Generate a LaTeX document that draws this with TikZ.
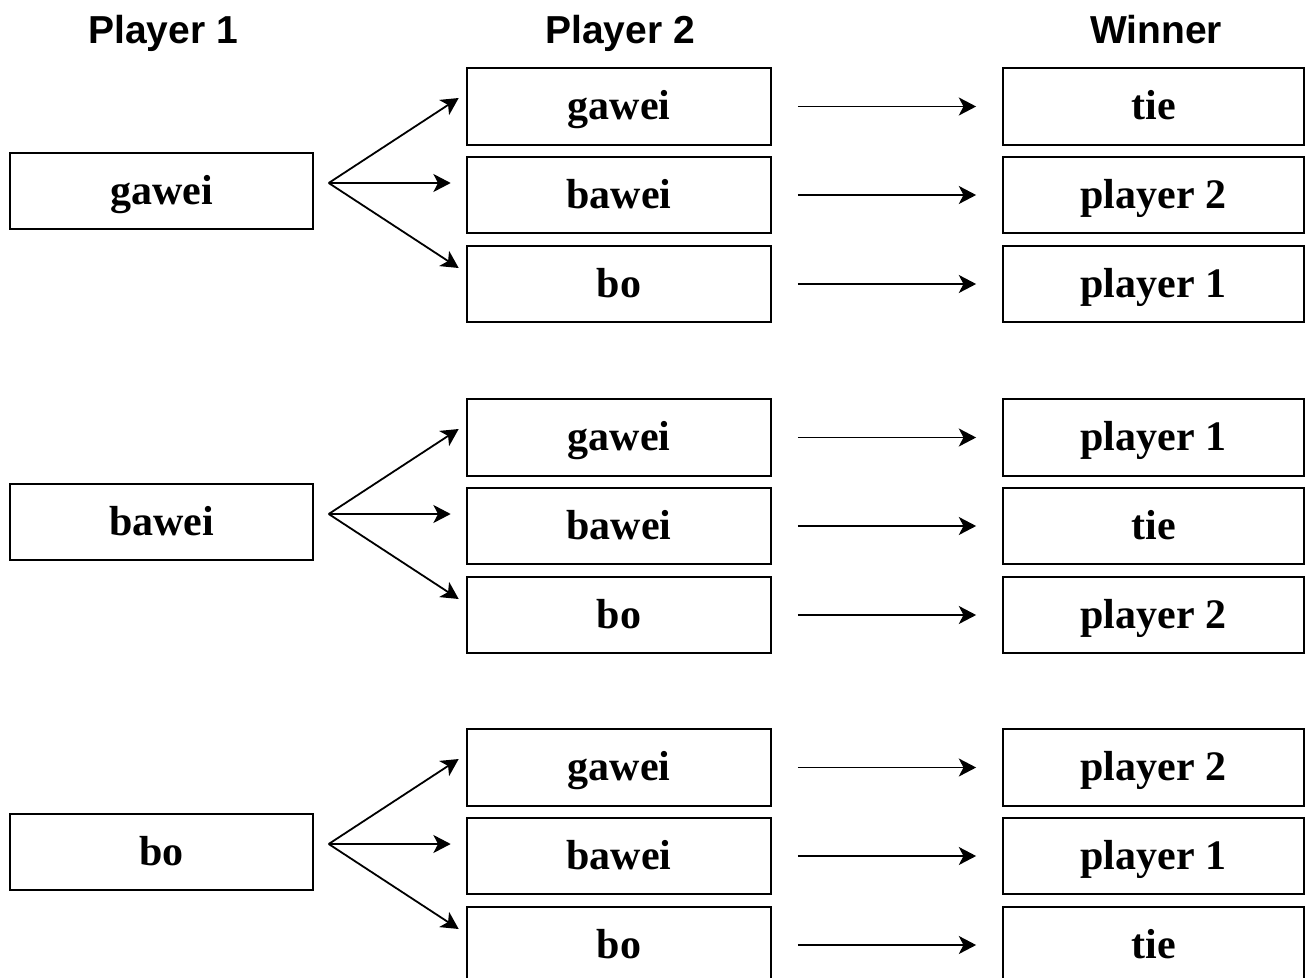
\documentclass[tikz,border=0pt]{standalone}
\usepackage{fontspec}
\setmainfont{Liberation Serif}
\setsansfont{Liberation Sans}
\usetikzlibrary{arrows.meta,calc}

\begin{document}
\begin{tikzpicture}[x=0.75pt,y=-0.75pt,
  choice/.style={draw, line width=1.3pt, minimum height=57.5pt, inner sep=0pt,
    font=\fontsize{31.5}{36}\selectfont\bfseries, text height=22pt, text depth=2pt},
  leftbox/.style={choice, minimum width=227pt},
  midbox/.style={choice, minimum width=228pt},
  winbox/.style={choice, minimum width=225.75pt},
  head/.style={font=\fontsize{29.25}{34}\selectfont\sffamily\bfseries, anchor=base, inner sep=0pt},
  arr/.style={line width=1.35pt, -{Stealth[length=13pt,width=13.5pt,inset=3.5pt]}},
]
\useasboundingbox (0,0) rectangle (1307,978);
\clip (0,0) rectangle (1307,978);

% column headings
\node[head] (h1) at (163,43) {Player 1};
\node[head] (h2) at (620,43) {Player 2};
\node[head] (h3) at (1156,43) {Winner};

% one group per choice of player 1
\foreach \g/\T/\pick/\wa/\wb/\wc in {%
    1/68/gawei/tie/player 2/player 1,%
    2/399/bawei/player 1/tie/player 2,%
    3/729/bo/player 2/player 1/tie} {
  \node[leftbox] (p\g) at ({161.5},{\T+123}) {\pick};

  \node[midbox] (m\g a) at ({619},{\T+38.5}) {gawei};
  \node[midbox] (m\g b) at ({619},{\T+127})  {bawei};
  \node[midbox] (m\g c) at ({619},{\T+216})  {bo};

  \node[winbox] (w\g a) at ({1153.5},{\T+38.5}) {\wa};
  \node[winbox] (w\g b) at ({1153.5},{\T+127})  {\wb};
  \node[winbox] (w\g c) at ({1153.5},{\T+216})  {\wc};

  % fork from player 1's choice to the three answers
  \coordinate (f\g) at ($(p\g.east)+(15,-8)$);
  \coordinate (f\g a) at ($(f\g)+(130,-85)$);
  \coordinate (f\g b) at ($(f\g)+(122,0)$);
  \coordinate (f\g c) at ($(f\g)+(130,85)$);
  \draw[arr] (f\g) -- (f\g a);
  \draw[arr] (f\g) -- (f\g b);
  \draw[arr] (f\g) -- (f\g c);

  % outcome arrows
  \foreach \r in {a,b,c}
    \draw[arr, shorten <=19.5pt, shorten >=19.5pt] (m\g\r) -- (w\g\r);
}
\end{tikzpicture}
\end{document}
